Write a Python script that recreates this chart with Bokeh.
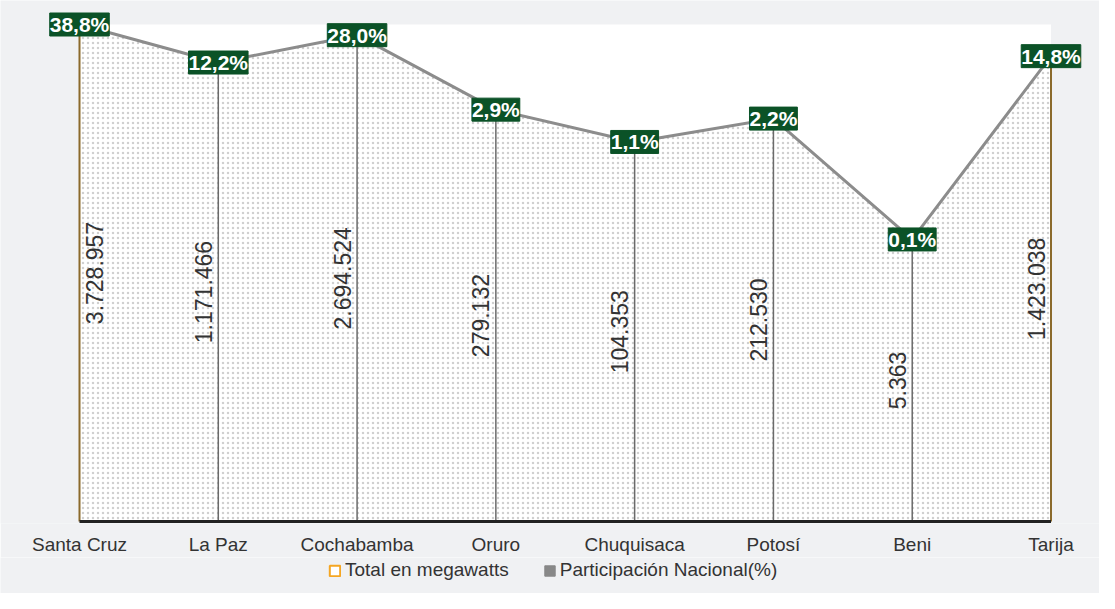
import math
from bokeh.plotting import figure
from bokeh.layouts import column
from bokeh.models import ColumnDataSource, Range1d, LabelSet, Legend, LegendItem
from bokeh.core.properties import value
from bokeh.embed import file_html
from bokeh.resources import INLINE

# ---- data ----
departments = ["Santa Cruz", "La Paz", "Cochabamba", "Oruro",
               "Chuquisaca", "Potosí", "Beni", "Tarija"]
total_mw = [3728957, 1171466, 2694524, 279132, 104353, 212530, 5363, 1423038]
share_pct = [38.8, 12.2, 28.0, 2.9, 1.1, 2.2, 0.1, 14.8]
series_names = ["Total en megawatts", "Participación Nacional(%)"]

# ---- derived ----
n = len(departments)
xs = list(range(n))
total_lbl = [f"{v:,}".replace(",", ".") for v in total_mw]
share_lbl = [f"{v:.1f}%".replace(".", ",") for v in share_pct]
base = [1] * n
mid = [math.sqrt(v) for v in total_mw]
seg_colors = ["#8b6a2b" if i in (0, n - 1) else "#6a6a6a" for i in xs]
seg_widths = [2 if i in (0, n - 1) else 1.5 for i in xs]
txt_dx = [15 if i == 0 else -15 for i in xs]
ymax = max(total_mw)

src = ColumnDataSource(dict(x=xs, total=total_mw, base=base, mid=mid,
                            tl=total_lbl, sl=share_lbl, sc=seg_colors,
                            sw=seg_widths, dx=txt_dx))

FONT = "Liberation Sans"
BG = "#f0f1f3"

# ---- layout geometry (pixels inside the figure) ----
W, H = 1099, 557
plot_left, plot_right = 79, 1050.5      # x of first / last category
plot_top, plot_base = 24, 521           # y of max value / baseline
frame_bottom = 523
ux = (plot_right - plot_left) / (n - 1)
x_start = -plot_left / ux
x_end = (n - 1) + (W - plot_right) / ux
k = (plot_base - plot_top) / math.log10(ymax)
y_start = 10 ** (-(frame_bottom - plot_base) / k)
y_end = 10 ** (math.log10(ymax) + plot_top / k)

p = figure(width=W, height=H,
           x_range=Range1d(x_start, x_end), y_range=Range1d(y_start, y_end),
           y_axis_type="log", output_backend="svg", toolbar_location=None,
           min_border_left=0, min_border_right=0, min_border_top=0,
           min_border_bottom=H - frame_bottom, background_fill_color=BG,
           border_fill_color=BG, outline_line_color=None)

p.yaxis.visible = False
p.xgrid.visible = False
p.ygrid.visible = False

p.xaxis.ticker = xs
p.xaxis.major_label_overrides = {i: d for i, d in zip(xs, departments)}
p.xaxis.axis_line_color = None
p.xaxis.major_tick_line_color = None
p.xaxis.minor_tick_line_color = None
p.xaxis.major_label_standoff = 4
p.xaxis.major_label_text_font = FONT
p.xaxis.major_label_text_font_size = "19px"
p.xaxis.major_label_text_color = "#333333"

# white plot area
p.quad(left=[0], right=[n - 1], bottom=[1], top=[ymax],
       fill_color="white", line_color=None)

# dotted area
p.varea(x="x", y1="base", y2="total", source=src, fill_color="white",
        hatch_pattern="dot", hatch_color="#d0d0d0", hatch_scale=5,
        hatch_weight=1)

# vertical drop lines
p.segment(x0="x", y0="base", x1="x", y1="total", source=src,
          line_color="sc", line_width="sw")

# baseline
p.segment(x0=[0], y0=[1], x1=[n - 1], y1=[1], line_color="#222222",
          line_width=3)

# connecting line
p.line(x="x", y="total", source=src, line_color="#8c8c8c", line_width=3)

# rotated values
p.text(x="x", y="mid", text="tl", source=src, angle=math.pi / 2,
       x_offset="dx", text_align="center", text_baseline="middle",
       text_font=value("'Liberation Sans Narrow', 'Liberation Sans', sans-serif"),
       text_font_size="23px", text_color="#333333")

# percentage labels
kw = {}
if "padding" in LabelSet.properties():
    kw["padding"] = 3
labels = LabelSet(x="x", y="total", text="sl", source=src,
                  text_align="center", text_baseline="middle",
                  text_font=value(FONT), text_font_size=value("21px"),
                  text_font_style=value("bold"), text_color=value("white"),
                  background_fill_color="#0b5227",
                  border_line_color="#0b5227", **kw)
p.add_layout(labels)

# ---- legend strip ----
lg = figure(width=W, height=36, x_range=Range1d(0, 1), y_range=Range1d(0, 1),
            output_backend="svg", toolbar_location=None,
            min_border_left=0, min_border_right=0, min_border_top=0,
            min_border_bottom=0, background_fill_color=BG,
            border_fill_color=BG, outline_line_color=None)
lg.xaxis.visible = False
lg.yaxis.visible = False
lg.xgrid.visible = False
lg.ygrid.visible = False
r1 = lg.quad(left=[-10], right=[-9], bottom=[0], top=[1], fill_color="white",
             line_color="#f5a623", line_width=2)
r2 = lg.quad(left=[-10], right=[-9], bottom=[0], top=[1],
             fill_color="#888888", line_color="#888888")
legend = Legend(items=[LegendItem(label=series_names[0], renderers=[r1]),
                       LegendItem(label=series_names[1], renderers=[r2])],
                orientation="horizontal", location=(328, 12),
                glyph_width=13, glyph_height=13, spacing=34,
                label_standoff=4, label_text_font=FONT,
                label_text_font_size="19px", label_text_color="#333333",
                background_fill_alpha=0, border_line_color=None,
                padding=4, margin=0)
lg.add_layout(legend)

layout = column(p, lg, spacing=0)
open("out.html", "w").write(file_html(layout, INLINE))
